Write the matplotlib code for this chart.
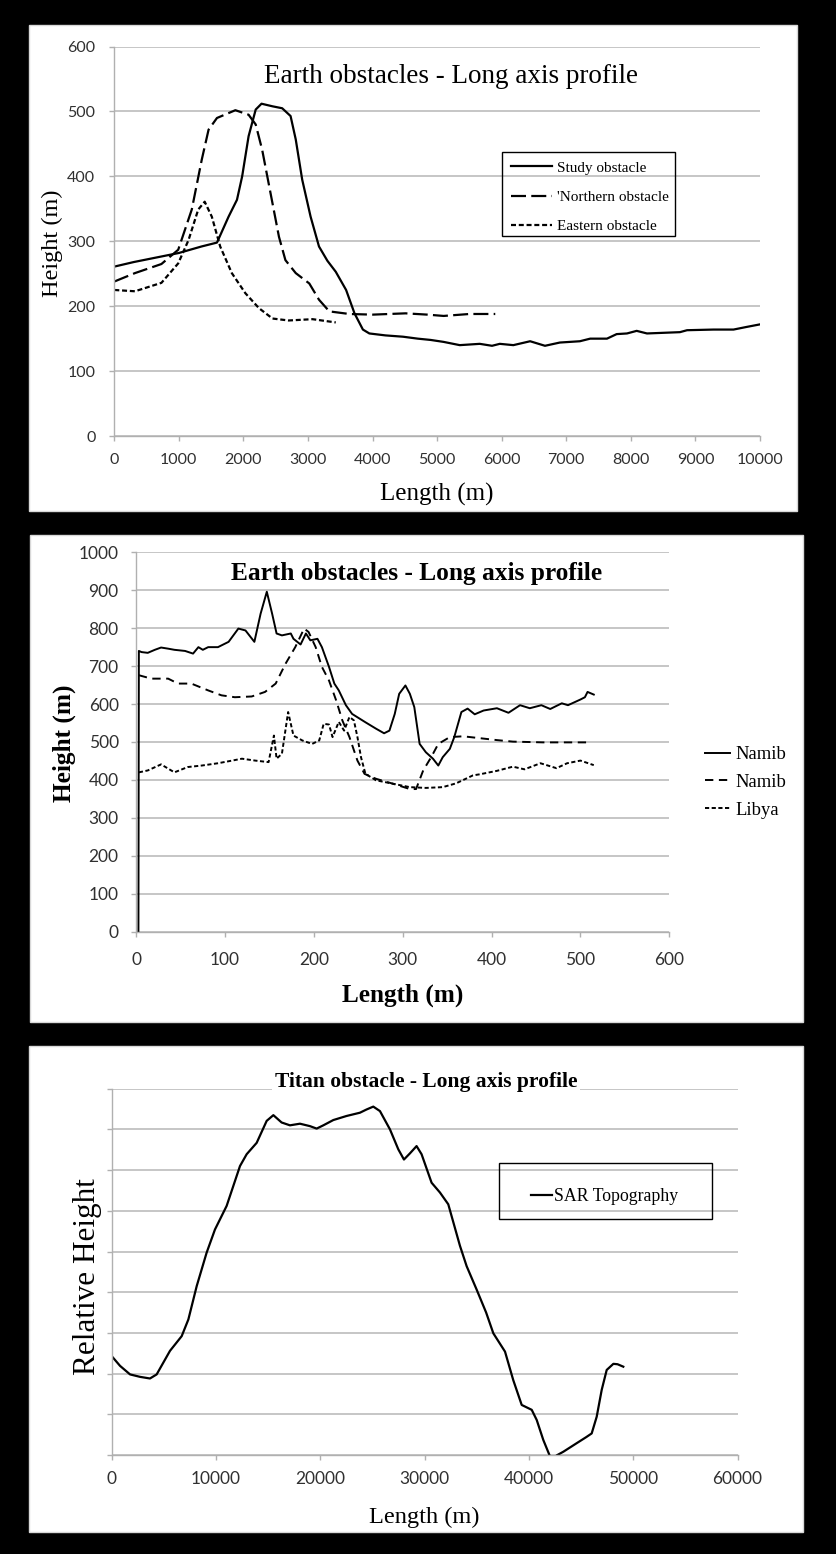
import matplotlib.pyplot as plt
from matplotlib.patches import Rectangle

W, H = 837, 1554
SERIF = 'Liberation Serif'
SANS = 'Lato'
GRID = '#c6c6c6'
SPINE = '#b0b0b0'

plt.rcParams['lines.scale_dashes'] = False

# ---- panel 1: Earth obstacles (study / northern / eastern) ----
study_x = [0, 300, 700, 1000, 1350, 1590, 1770, 1900, 1980, 2080, 2190, 2280, 2450, 2600,
           2730, 2810, 2910, 3040, 3170, 3300, 3430, 3590, 3720, 3850, 3950, 4200, 4470,
           4700, 4900, 5100, 5350, 5660, 5850, 5970, 6180, 6440, 6670, 6900, 7210, 7370,
           7630, 7780, 7940, 8090, 8250, 8760, 8870, 9280, 9590, 9790, 10000]
study_y = [261, 268, 276, 282, 292, 298, 338, 364, 400, 462, 503, 512, 508, 505,
           493, 457, 395, 338, 292, 270, 253, 225, 189, 164, 158, 155, 153,
           150, 148, 145, 140, 142, 139, 142, 140, 146, 139, 144, 146, 150,
           150, 157, 158, 162, 158, 160, 163, 164, 164, 168, 172]

north_x = [0, 320, 730, 990, 1200, 1355, 1460, 1590, 1875, 2080, 2190, 2290, 2420, 2550,
           2650, 2810, 3020, 3170, 3330, 3640, 4000, 4510, 4850, 5100, 5500, 5900]
north_y = [238, 251, 265, 287, 349, 426, 472, 490, 502, 495, 480, 441, 374, 307,
           271, 251, 235, 210, 192, 188, 187, 189, 187, 185, 188, 188]

east_x = [0, 320, 730, 990, 1150, 1300, 1400, 1510, 1640, 1820, 2030, 2240, 2450, 2700, 3070, 3430]
east_y = [225, 223, 236, 266, 302, 349, 361, 338, 292, 251, 220, 197, 181, 178, 180, 175]

# ---- panel 2: Namib / Namib / Libya ----
namib1_x = [2.5, 3, 6, 13, 21, 28, 36, 43, 55, 64, 70, 75, 81, 92, 104, 115, 123, 133, 140,
            147, 153, 158, 164, 174, 177, 185, 191, 196, 204, 209, 217, 223, 228, 236, 243,
            258, 270, 279, 285, 291, 296, 303, 308, 313, 319, 326, 334, 340, 345, 353, 358,
            366, 373, 381, 391, 406, 419, 432, 443, 456, 466, 479, 486, 500, 505, 508, 515]
namib1_y = [0, 740, 737, 735, 743, 749, 746, 743, 740, 733, 750, 743, 750, 750, 764, 799, 794, 764, 838,
            896, 838, 786, 781, 786, 772, 757, 786, 768, 772, 750, 698, 654, 636, 597, 574,
            552, 535, 523, 530, 574, 627, 649, 627, 592, 495, 473, 456, 438, 460, 482, 513,
            579, 588, 573, 583, 589, 577, 597, 589, 597, 587, 602, 597, 612, 618, 632, 625]

namib2_x = [3, 17, 36, 47, 62, 81, 96, 111, 130, 145, 157, 168, 179, 189, 194, 202, 209, 217,
            225, 232, 240, 249, 257, 270, 289, 308, 315, 323, 332, 340, 353, 368, 387, 406,
            424, 458, 507]
namib2_y = [676, 667, 667, 654, 654, 636, 623, 618, 620, 632, 654, 706, 750, 799, 790, 750, 698, 662,
            610, 557, 513, 451, 416, 403, 390, 376, 376, 425, 460, 495, 513, 515, 510, 505,
            501, 499, 499]

libya_x = [3, 13, 28, 43, 58, 74, 92, 108, 119, 134, 149, 155, 158, 164, 171, 177, 187, 198,
           206, 211, 217, 221, 228, 234, 240, 245, 249, 253, 258, 270, 289, 308, 326, 345,
           360, 379, 387, 406, 424, 437, 455, 473, 485, 500, 515]
libya_y = [420, 425, 441, 420, 434, 438, 444, 451, 456, 451, 447, 517, 456, 469, 579, 517, 504, 495,
           504, 548, 546, 513, 553, 530, 566, 557, 513, 460, 416, 399, 390, 381, 379, 381,
           391, 412, 415, 424, 435, 428, 444, 431, 444, 451, 439]

# ---- panel 3: Titan SAR topography ----
sar_x = [0, 800, 1760, 2720, 3670, 4310, 4950, 5590, 6710, 7350, 8150, 9100, 9900, 11020,
         12300, 12940, 13900, 14860, 15500, 16290, 17090, 18050, 19010, 19650, 20290, 21250,
         22520, 23800, 24440, 25080, 25720, 26680, 27480, 28020, 28590, 29230, 29710, 30670,
         31470, 32270, 33390, 34030, 34980, 35900, 36590, 37710, 38500, 39310, 40270, 40750,
         41380, 42000, 42300, 42660, 43300, 44580, 45500, 46020, 46500, 46980, 47460, 48100,
         48500, 49050]
sar_y = [2.43, 2.19, 1.98, 1.92, 1.88, 1.98, 2.27, 2.56, 2.92, 3.33, 4.15, 4.97, 5.54, 6.12,
         7.10, 7.39, 7.67, 8.21, 8.35, 8.17, 8.10, 8.14, 8.08, 8.02, 8.10, 8.23,
         8.33, 8.41, 8.49, 8.56, 8.45, 8.00, 7.51, 7.26, 7.41, 7.59, 7.39, 6.69,
         6.45, 6.16, 5.14, 4.64, 4.07, 3.50, 2.99, 2.54, 1.84, 1.23, 1.11, 0.86,
         0.37, -0.02, -0.12, -0.01, 0.08, 0.29, 0.44, 0.53, 0.94, 1.60, 2.09, 2.24,
         2.23, 2.17]


def fx(x):
    return x / W


def fy(y):
    return 1 - y / H


def add_panel(fig, x0, y0, x1, y1):
    fig.patches.append(Rectangle((fx(x0), fy(y1)), (x1 - x0) / W, (y1 - y0) / H,
                                 transform=fig.transFigure, facecolor='white',
                                 edgecolor='#d8d8d8', lw=1, zorder=-5))


def add_box(fig, x0, y0, x1, y1):
    fig.patches.append(Rectangle((fx(x0), fy(y1)), (x1 - x0) / W, (y1 - y0) / H,
                                 transform=fig.transFigure, facecolor='none',
                                 edgecolor='black', lw=1.0, zorder=5))


def make_axes(fig, left, top, right, bottom, xlim, ylim, xticks, yticks,
              labelsize, xpad, ypad, ylabels=True):
    ax = fig.add_axes([fx(left), fy(bottom), (right - left) / W, (bottom - top) / H])
    ax.set_facecolor('none')
    ax.set_xlim(xlim)
    ax.set_ylim(ylim)
    ax.set_xticks(xticks)
    ax.set_yticks(yticks)
    for s in ['top', 'right']:
        ax.spines[s].set_visible(False)
    for s in ['left', 'bottom']:
        ax.spines[s].set_color(SPINE)
        ax.spines[s].set_linewidth(1.0)
    ax.yaxis.grid(True, color=GRID, lw=1.4)
    ax.set_axisbelow(True)
    ax.tick_params(axis='both', color=SPINE, length=3.6, width=1.0,
                   labelsize=labelsize, labelcolor='#303030')
    ax.tick_params(axis='x', pad=xpad)
    ax.tick_params(axis='y', pad=ypad)
    if not ylabels:
        ax.set_yticklabels([])
    for lab in ax.get_xticklabels() + ax.get_yticklabels():
        lab.set_fontfamily(SANS)
    return ax


fig = plt.figure(figsize=(W / 100, H / 100), dpi=100, facecolor='black')

add_panel(fig, 29, 25, 797, 511)
add_panel(fig, 30, 535, 803, 1022)
add_panel(fig, 29, 1046, 803, 1532)

# ---------------- panel 1 ----------------
ax1 = make_axes(fig, 114.3, 46.6, 760, 436, (0, 10000), (0, 600),
                range(0, 10001, 1000), range(0, 601, 100), 11.5, 9, 10)
ax1.plot(study_x, study_y, color='black', lw=1.6, label='Study obstacle', solid_joinstyle='round')
ax1.plot(north_x, north_y, color='black', lw=1.6, dashes=(10.8, 3.8), label="'Northern obstacle")
ax1.plot(east_x, east_y, color='black', lw=1.6, dashes=(3.6, 2.0), label='Eastern obstacle')
ax1.legend(loc='upper left', bbox_to_anchor=(fx(510.7), fy(161)), bbox_transform=fig.transFigure,
           frameon=False, prop=dict(family=SERIF, size=11), handlelength=2.7,
           handletextpad=0.3, labelspacing=1.02, borderpad=0, borderaxespad=0)
add_box(fig, 502, 152, 675, 236)
fig.text(fx(451), fy(83.3), 'Earth obstacles - Long axis profile', family=SERIF,
         size=19.5, ha='center', va='baseline')
fig.text(fx(437), fy(501), 'Length (m)', family=SERIF, size=18, ha='center', va='baseline')
fig.text(fx(52), fy(243), 'Height (m)', family=SERIF, size=17.5, rotation=90,
         ha='center', va='center')

# ---------------- panel 2 ----------------
ax2 = make_axes(fig, 136.2, 552.3, 669.3, 931.7, (0, 600), (0, 1000),
                range(0, 601, 100), range(0, 1001, 100), 12.5, 11, 9)
ax2.plot(namib1_x, namib1_y, color='black', lw=1.4, label='Namib')
ax2.plot(namib2_x, namib2_y, color='black', lw=1.4, dashes=(6, 4), label='Namib')
ax2.plot(libya_x, libya_y, color='black', lw=1.4, dashes=(3, 1.8), label='Libya')
ax2.legend(loc='upper left', bbox_to_anchor=(fx(705), fy(746)), bbox_transform=fig.transFigure,
           frameon=False, prop=dict(family=SERIF, size=13.4), handlelength=1.34,
           handletextpad=0.32, labelspacing=0.58, borderpad=0, borderaxespad=0)
fig.text(fx(417), fy(580), 'Earth obstacles - Long axis profile', family=SERIF,
         weight='bold', size=18.3, ha='center', va='baseline')
fig.text(fx(402.5), fy(1001.7), 'Length (m)', family=SERIF, weight='bold', size=18.2,
         ha='center', va='baseline')
fig.text(fx(64), fy(743), 'Height (m)', family=SERIF, weight='bold', size=18.3,
         rotation=90, ha='center', va='center')

# ---------------- panel 3 ----------------
ax3 = make_axes(fig, 111.7, 1088.7, 737.5, 1455, (0, 60000), (0, 9),
                range(0, 60001, 10000), range(0, 10), 12.5, 8, 4, ylabels=False)
ax3.plot(sar_x, sar_y, color='black', lw=1.6, label='SAR Topography', solid_joinstyle='round')
ax3.legend(loc='upper left', bbox_to_anchor=(fx(530.7), fy(1188)), bbox_transform=fig.transFigure,
           frameon=False, prop=dict(family=SERIF, size=12.8), handlelength=1.2,
           handletextpad=0.1, borderpad=0, borderaxespad=0)
add_box(fig, 499, 1163, 712, 1219)
fig.text(fx(425.8), fy(1086.7), 'Titan obstacle - Long axis profile', family=SERIF,
         weight='bold', size=15.5, ha='center', va='baseline',
         bbox=dict(facecolor='white', edgecolor='none', pad=2))
fig.text(fx(424), fy(1523), 'Length (m)', family=SERIF, size=17.6, ha='center', va='baseline')
fig.text(fx(88), fy(1277), 'Relative Height', family=SERIF, size=22.5, rotation=90,
         ha='center', va='center')

fig.savefig('out.png', dpi=100, facecolor='black')
